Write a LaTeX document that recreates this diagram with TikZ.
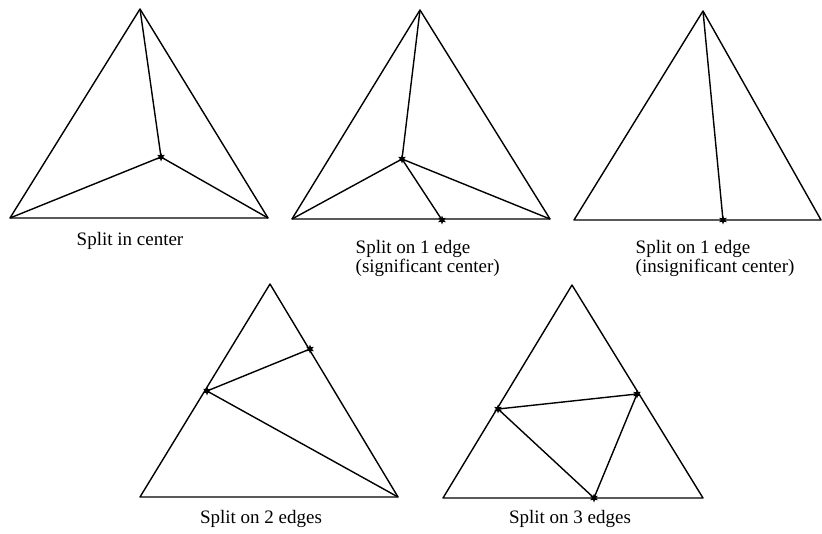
\documentclass[tikz,border=0pt]{standalone}
\usepackage{fontspec}
\setmainfont{Liberation Serif}
\usetikzlibrary{shapes.geometric}
\begin{document}
\begin{tikzpicture}[x=1pt,y=-1pt,line width=1.4pt,line join=round]
    \tikzset{splitmark/.style={star,star points=6,star point ratio=2.2,minimum size=9pt,inner sep=0pt,fill},
             caption/.style={inner sep=0pt,font=\fontsize{19}{15}\selectfont,align=left}}
    \useasboundingbox (0,0) rectangle (822,533);

    % split in center
    \coordinate (t1) at (140,9);
    \coordinate (l1) at (10,218);
    \coordinate (r1) at (268,218);
    \coordinate (c1) at (161,157);
    \draw (t1) -- (l1) -- (r1) -- cycle;
    \draw (t1) -- (c1) (l1) -- (c1) -- (r1);
    \node[splitmark] (m1) at (c1) {};
    \node[caption, anchor=base] (cap1) at (130,245) {Split in center};

    % split on 1 edge, significant center
    \coordinate (t2) at (420,10);
    \coordinate (l2) at (292,219);
    \coordinate (r2) at (550,219);
    \coordinate (c2) at (402,159);
    \coordinate (e2) at (442,220);
    \draw (t2) -- (l2) -- (r2) -- cycle;
    \draw (t2) -- (c2) (l2) -- (c2) -- (r2) (c2) -- (e2);
    \node[splitmark] (m2) at (c2) {};
    \node[splitmark] (n2) at (e2) {};
    \node[caption, anchor=north west] (cap2) at (355,240) {Split on 1 edge\\(significant center)};

    % split on 1 edge, insignificant center
    \coordinate (t3) at (703,11);
    \coordinate (l3) at (574,220);
    \coordinate (r3) at (821,220);
    \coordinate (e3) at (723,220);
    \draw (t3) -- (l3) -- (r3) -- cycle;
    \draw (t3) -- (e3);
    \node[splitmark] (n3) at (e3) {};
    \node[caption, anchor=north west] (cap3) at (635,240) {Split on 1 edge\\(insignificant center)};

    % split on 2 edges
    \coordinate (t4) at (270,284);
    \coordinate (l4) at (140,497);
    \coordinate (r4) at (398,497);
    \coordinate (p4) at (310,349);
    \coordinate (q4) at (207,391);
    \draw (t4) -- (l4) -- (r4) -- cycle;
    \draw (p4) -- (q4) -- (r4);
    \node[splitmark] (mp4) at (p4) {};
    \node[splitmark] (mq4) at (q4) {};
    \node[caption, anchor=base] (cap4) at (261,523) {Split on 2 edges};

    % split on 3 edges
    \coordinate (t5) at (572,285);
    \coordinate (l5) at (443,498);
    \coordinate (r5) at (703,498);
    \coordinate (p5) at (637,394);
    \coordinate (q5) at (498,409);
    \coordinate (s5) at (594,498);
    \draw (t5) -- (l5) -- (r5) -- cycle;
    \draw (q5) -- (p5) -- (s5) -- (q5);
    \node[splitmark] (mp5) at (p5) {};
    \node[splitmark] (mq5) at (q5) {};
    \node[splitmark] (ms5) at (s5) {};
    \node[caption, anchor=base] (cap5) at (570,523) {Split on 3 edges};
\end{tikzpicture}
\end{document}
